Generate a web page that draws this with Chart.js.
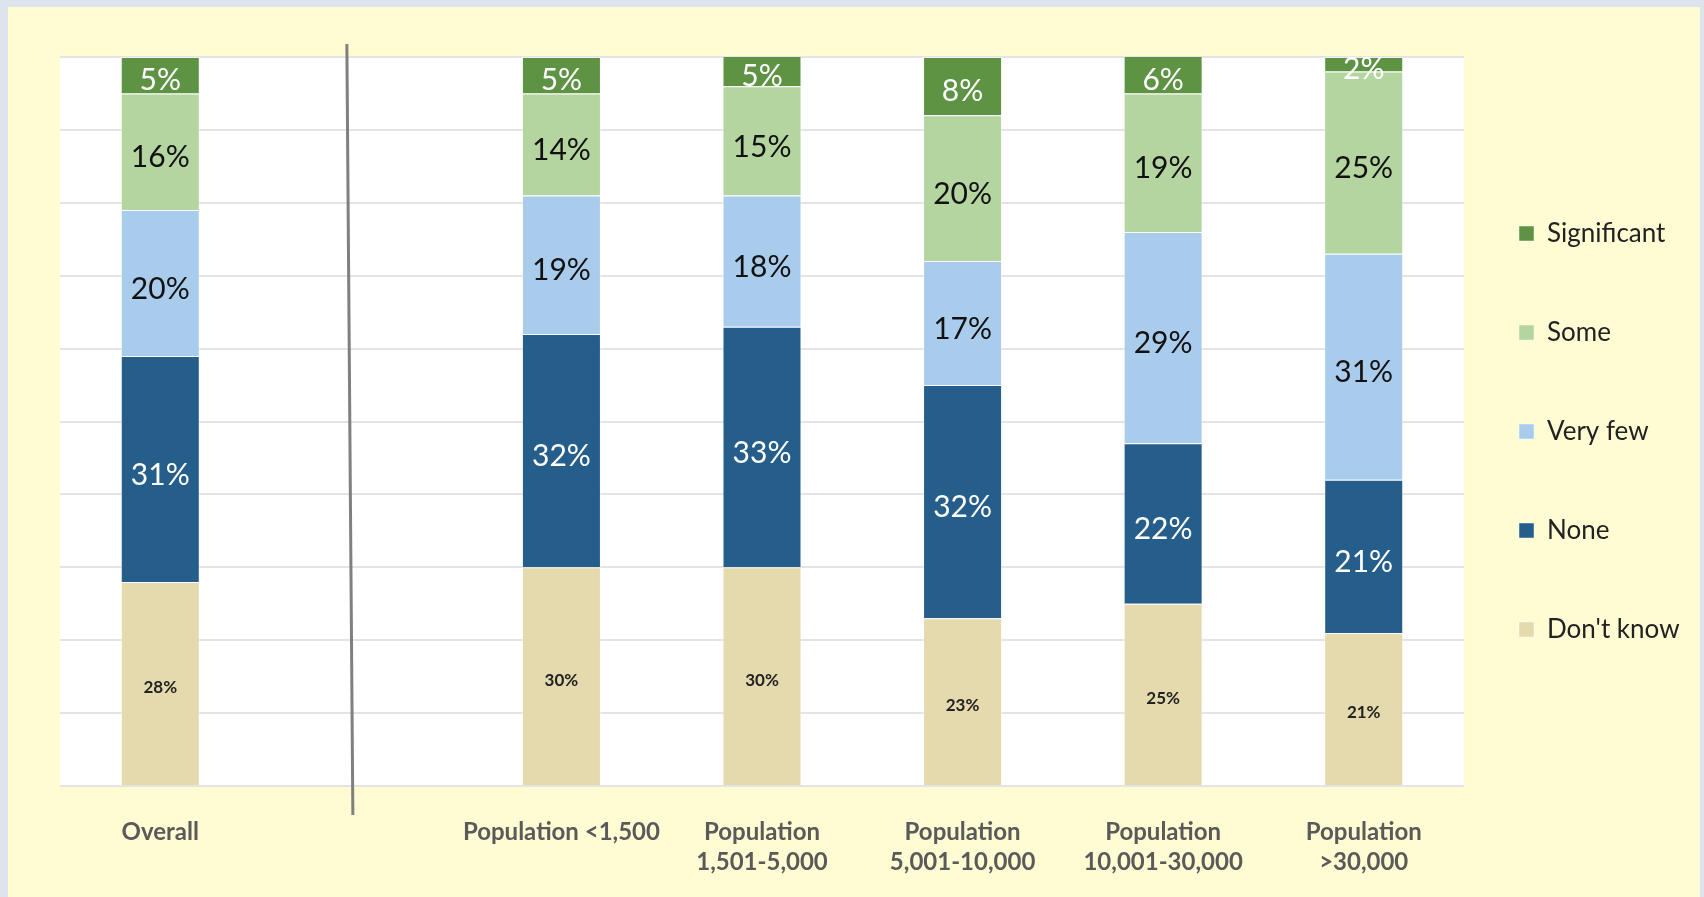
<!DOCTYPE html>
<html>
<head>
<meta charset="utf-8">
<script src="https://cdn.jsdelivr.net/npm/chart.js@4"></script>
<style>
  html, body { margin: 0; padding: 0; background: #dde4ee; }
  #panel { position: absolute; left: 8px; top: 7px; width: 1692px; height: 890px; background: #fffcd3; }
</style>
</head>
<body>
<div id="panel"><canvas id="myChart"></canvas></div>
<script>
// categories (blank slot is the gap between Overall and the population groups)
const labels = [
	'Overall',
	'',
	'Population <1,500',
	['Population', '1,501-5,000'],
	['Population', '5,001-10,000'],
	['Population', '10,001-30,000'],
	['Population', '>30,000']
]

// series values, percent
const dontKnow = [28, null, 30, 30, 23, 25, 21]
const none = [31, null, 32, 33, 32, 22, 21]
const veryFew = [20, null, 19, 18, 17, 29, 31]
const some = [16, null, 14, 15, 20, 19, 25]
const significant = [5, null, 5, 5, 8, 6, 2]

const yTicks = [0, 10, 20, 30, 40, 50, 60, 70, 80, 90, 100]

// white plot background
const plotBackground = {
	id: 'plotBackground',
	beforeDraw: chart => {
		const { ctx, chartArea } = chart
		ctx.save()
		ctx.fillStyle = '#ffffff'
		ctx.fillRect(chartArea.left, chartArea.top, chartArea.width, chartArea.height)
		ctx.restore()
	}
}

// nudge legend to sit where the original one is
const legendNudge = {
	id: 'legendNudge',
	afterLayout: chart => {
		const lg = chart.legend
		lg.left -= 18
		lg.right += 40
		lg.top -= 36
		lg.bottom -= 36
	}
}

// value labels inside each segment
const segmentLabels = {
	id: 'segmentLabels',
	afterDatasetsDraw: chart => {
		const { ctx, chartArea } = chart
		ctx.save()
		ctx.beginPath()
		ctx.rect(chartArea.left, chartArea.top, chartArea.width, chartArea.height)
		ctx.clip()
		ctx.textAlign = 'center'
		ctx.textBaseline = 'middle'
		chart.data.datasets.forEach((ds, i) => {
			const meta = chart.getDatasetMeta(i)
			meta.data.forEach((bar, j) => {
				const v = ds.data[j]
				if (v === null) return
				const top = Math.max(bar.y, chartArea.top)
				const cy = (top + bar.base) / 2 + ds.labelShift
				ctx.font = ds.labelFont
				ctx.fillStyle = ds.labelColor
				ctx.fillText(v + '%', bar.x, cy)
			})
		})
		ctx.restore()
	}
}

// divider between Overall and the groups
const divider = {
	id: 'divider',
	afterDraw: chart => {
		const { ctx, chartArea, scales } = chart
		const x = scales.x.getPixelForValue(1)
		ctx.save()
		ctx.strokeStyle = '#808080'
		ctx.lineWidth = 3
		ctx.beginPath()
		ctx.moveTo(x - 14, chartArea.top - 13)
		ctx.lineTo(x - 8, chartArea.bottom + 29)
		ctx.stroke()
		ctx.restore()
	}
}

const big = '30px Lato'
const small = 'bold 17px Lato'

const myChart = new Chart(document.querySelector('#myChart').getContext('2d'), {
	type: 'bar',
	data: {
		labels: labels,
		datasets: [
			{ label: "Don't know", data: dontKnow, backgroundColor: '#e5d9ae', labelColor: '#222222', labelFont: small, labelShift: 4 },
			{ label: 'None', data: none, backgroundColor: '#255e8b', labelColor: '#ffffff', labelFont: big, labelShift: 6 },
			{ label: 'Very few', data: veryFew, backgroundColor: '#a9cced', labelColor: '#111111', labelFont: big, labelShift: 6 },
			{ label: 'Some', data: some, backgroundColor: '#b4d59f', labelColor: '#111111', labelFont: big, labelShift: 6 },
			{ label: 'Significant', data: significant, backgroundColor: '#5d9343', labelColor: '#ffffff', labelFont: big, labelShift: 5 }
		]
	},
	options: {
		responsive: true,
		maintainAspectRatio: false,
		animation: false,
		datasets: {
			bar: {
				categoryPercentage: 1,
				barPercentage: 0.394,
				borderColor: 'rgba(255,255,255,0.45)',
				borderWidth: 1
			}
		},
		layout: { padding: { left: 52, top: 50, right: 10, bottom: 19 } },
		scales: {
			x: {
				stacked: true,
				afterFit: axis => {
					axis.height = 92
				},
				grid: { display: false, drawTicks: false },
				border: { display: false },
				ticks: {
					autoSkip: false,
					maxRotation: 0,
					padding: 31,
					color: '#5a5a5a',
					font: { family: 'Lato', size: 24, weight: 'bold', lineHeight: 1.27 }
				}
			},
			y: {
				stacked: true,
				min: 0,
				max: 100,
				afterBuildTicks: axis => {
					axis.ticks = yTicks.map(v => ({ value: v }))
				},
				grid: { color: '#e4e4e4', lineWidth: 2, drawTicks: false },
				border: { display: false },
				ticks: { display: false }
			}
		},
		plugins: {
			tooltip: { enabled: false },
			legend: {
				position: 'right',
				reverse: true,
				maxWidth: 226,
				labels: {
					boxWidth: 15,
					boxHeight: 15,
					padding: 73,
					color: '#222222',
					font: { family: 'Lato', size: 26 }
				}
			}
		}
	},
	plugins: [plotBackground, legendNudge, segmentLabels, divider]
})
</script>
</body>
</html>
